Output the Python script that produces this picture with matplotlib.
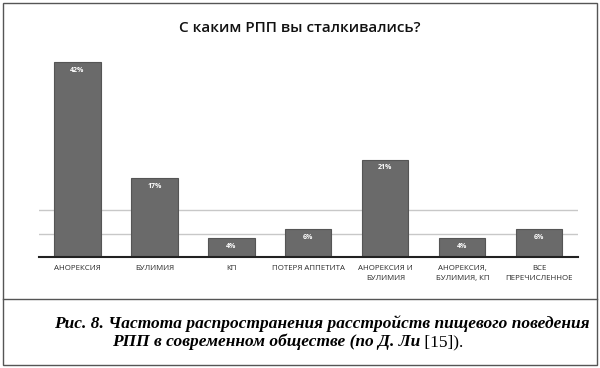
import matplotlib
matplotlib.use("Agg")
import matplotlib.pyplot as plt
from matplotlib.patches import Rectangle
from matplotlib.lines import Line2D

categories = ["АНОРЕКСИЯ", "БУЛИМИЯ", "КП", "ПОТЕРЯ АППЕТИТА",
              "АНОРЕКСИЯ И\nБУЛИМИЯ", "АНОРЕКСИЯ,\nБУЛИМИЯ, КП", "ВСЕ\nПЕРЕЧИСЛЕННОЕ"]
values = [42, 17, 4, 6, 21, 4, 6]
value_labels = ["42%", "17%", "4%", "6%", "21%", "4%", "6%"]
grid_levels = [5, 10]

title = "С каким РПП вы сталкивались?"
caption_1 = "Рис. 8. Частота распространения расстройств пищевого поведения"
caption_2 = "РПП в современном обществе (по Д. Ли"
caption_2_tail = " [15])."

plt.rcParams["font.family"] = ["Open Sans", "DejaVu Sans"]

fig = plt.figure(figsize=(6, 3.68), dpi=100)
ax = fig.add_axes([0.065, 0.3024, 0.898, 0.566])

x = range(len(categories))
bars = ax.bar(x, values, width=0.6, color="#6a6a6a", edgecolor="#555555",
              linewidth=0.8, zorder=2)

for b, lab in zip(bars, value_labels):
    ax.annotate(lab, (b.get_x() + b.get_width() / 2, b.get_height()),
                xytext=(0, -6), textcoords="offset points",
                ha="center", va="center", color="white",
                fontsize=5, fontweight="bold", zorder=3)

ax.set_xlim(-0.5, len(categories) - 0.5)
ax.set_ylim(0, 45)
ax.set_yticks(grid_levels)
ax.yaxis.grid(True, color="#c8c8c8", linewidth=1)
ax.set_axisbelow(True)
ax.tick_params(axis="y", left=False, labelleft=False)
ax.set_xticks(list(x))
ax.set_xticklabels(categories, fontsize=5.7, color="#2a2a2a", linespacing=1.55)
ax.tick_params(axis="x", length=0, pad=6)
for s in ["top", "right", "left"]:
    ax.spines[s].set_visible(False)
ax.spines["bottom"].set_color("#222222")
ax.spines["bottom"].set_linewidth(1.5)

fig.text(0.5, 1 - 28 / 368, title, ha="center", va="center",
         fontsize=11, fontweight="semibold", color="#111111")

# frame and separator
fig.add_artist(Rectangle((3 / 600, 3 / 368), 594 / 600, 362 / 368,
                         transform=fig.transFigure, fill=False,
                         edgecolor="#555555", linewidth=1))
fig.add_artist(Line2D([3 / 600, 597 / 600], [1 - 299 / 368, 1 - 299 / 368],
                      transform=fig.transFigure, color="#555555", linewidth=1))

serif = ["Liberation Serif", "DejaVu Serif"]
fig.text(590 / 600, 1 - 324 / 368, caption_1, ha="right", va="center",
         fontsize=12.5, fontweight="bold", fontstyle="italic", family=serif)
t2 = fig.text(112 / 600, 1 - 342 / 368, caption_2, ha="left", va="center",
              fontsize=12.5, fontweight="bold", fontstyle="italic", family=serif)
ax.annotate(caption_2_tail, xy=(1, 0), xycoords=t2, ha="left", va="bottom",
            fontsize=12.5, family=serif, annotation_clip=False)

fig.savefig("out.png", dpi=100)
